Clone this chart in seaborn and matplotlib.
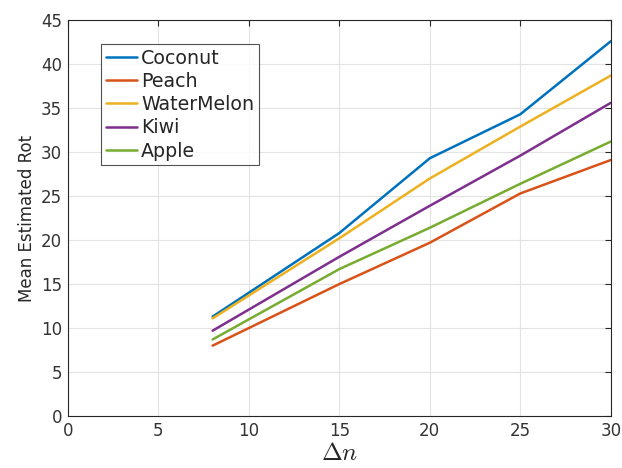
import matplotlib
matplotlib.use("Agg")
import matplotlib.pyplot as plt
import seaborn as sns
import pandas as pd

delta_n = [8, 15, 20, 25, 30]
coconut = [11.3, 20.8, 29.3, 34.3, 42.6]
peach = [8.0, 15.0, 19.7, 25.3, 29.1]
watermelon = [11.1, 20.2, 27.0, 32.9, 38.7]
kiwi = [9.7, 18.1, 23.9, 29.6, 35.6]
apple = [8.7, 16.7, 21.4, 26.4, 31.2]
series_names = ["Coconut", "Peach", "WaterMelon", "Kiwi", "Apple"]
series_values = [coconut, peach, watermelon, kiwi, apple]
colors = ["#0072BD", "#D95319", "#EDB120", "#7E2F8E", "#77AC30"]
x_ticks = [0, 5, 10, 15, 20, 25, 30]
y_ticks = [0, 5, 10, 15, 20, 25, 30, 35, 40, 45]

rows = []
for name, vals in zip(series_names, series_values):
    for x, v in zip(delta_n, vals):
        rows.append({"x": x, "y": v, "series": name})
df = pd.DataFrame(rows)

sns.set_style("white")
plt.rcParams['font.family'] = ['DejaVu Sans']
plt.rcParams['mathtext.fontset'] = 'cm'

fig = plt.figure(figsize=(6.22, 4.68), dpi=100)
ax = fig.add_axes([0.109, 0.111, 0.873, 0.846])

sns.lineplot(data=df, x="x", y="y", hue="series", hue_order=series_names,
             palette=colors, linewidth=1.8, ax=ax, estimator=None, sort=False)

ax.set_xlim(0, 30)
ax.set_ylim(0, 45)
ax.set_xticks(x_ticks)
ax.set_yticks(y_ticks)
ax.grid(True, color="#e3e3e3", linewidth=0.8)
ax.set_axisbelow(True)
for s in ax.spines.values():
    s.set_color("#262626")
    s.set_linewidth(0.8)
ax.tick_params(direction="in", length=4, width=0.8, colors="#262626",
               labelsize=12, top=True, right=True, labelcolor="#333333", pad=4)
ax.set_xlabel(r"$\Delta n$", fontsize=18, color="#262626", labelpad=1)
ax.set_ylabel("Mean Estimated Rot", fontsize=12, color="#262626", labelpad=4)

handles, labels = ax.get_legend_handles_labels()
leg = ax.legend(handles, labels, loc="upper left", bbox_to_anchor=(101/622, 1-44/468),
                bbox_transform=fig.transFigure, frameon=True, fancybox=False,
                edgecolor="#262626", fontsize=13.7, handlelength=1.65, handletextpad=0.2,
                labelspacing=0.22, borderpad=0.25, borderaxespad=0)
leg.get_frame().set_linewidth(0.8)
for t in leg.get_texts():
    t.set_color("#262626")

fig.savefig("out.png", dpi=100)
